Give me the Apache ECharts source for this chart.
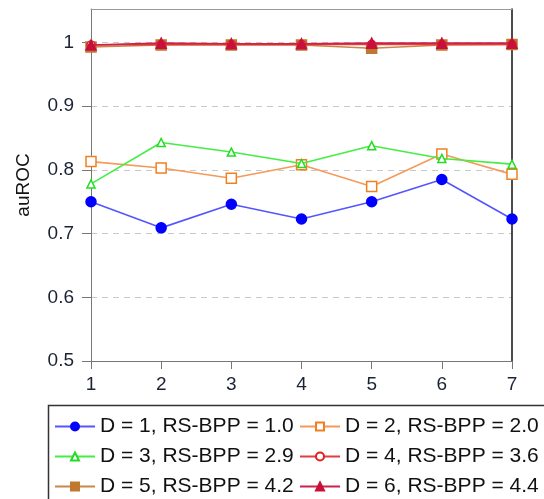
<!DOCTYPE html>
<html>
<head>
<meta charset="utf-8">
<script src="https://cdn.jsdelivr.net/npm/echarts@6/dist/echarts.min.js"></script>
<style>html,body{margin:0;padding:0;background:#fff;}#c{width:544px;height:499px;}</style>
</head>
<body>
<div id="c"></div>
<script>
const categories = ['1','2','3','4','5','6','7'];
const seriesNames = ['D = 1, RS-BPP = 1.0','D = 2, RS-BPP = 2.0','D = 3, RS-BPP = 2.9','D = 4, RS-BPP = 3.6','D = 5, RS-BPP = 4.2','D = 6, RS-BPP = 4.4'];
const d1 = [0.750, 0.709, 0.746, 0.723, 0.750, 0.785, 0.723];
const d2 = [0.813, 0.803, 0.787, 0.808, 0.774, 0.825, 0.793];
const d3 = [0.778, 0.843, 0.828, 0.810, 0.838, 0.818, 0.809];
const d4 = [0.996, 0.997, 0.997, 0.997, 0.997, 0.997, 0.997];
const d5 = [0.993, 0.996, 0.996, 0.996, 0.991, 0.996, 0.997];
const d6 = [0.996, 0.999, 0.998, 0.998, 0.999, 0.999, 0.999];
const yTicks = [0.5, 0.6, 0.7, 0.8, 0.9, 1];

const styles = [
  {line:'#5555ff', sym:'circle', size:10, fill:'#0000ff', border:'#0000ff'},
  {line:'#f59a5a', sym:'rect', size:10, fill:'#ffffff', border:'#f08020'},
  {line:'#44ee44', sym:'triangle', size:8, fill:'#ffffff', border:'#22dd22'},
  {line:'#e63c3c', sym:'circle', size:8, fill:'#ffffff', border:'#e02020'},
  {line:'#c8884a', sym:'rect', size:10, fill:'#c07830', border:'#c07830'},
  {line:'#d0204a', sym:'triangle', size:10, fill:'#c8103c', border:'#c8103c'}
];
const datas = [d1,d2,d3,d4,d5,d6];
const order = [4,3,5,1,2,0];

const series = datas.map((d,i)=>({
  name: seriesNames[i],
  type: 'line',
  data: d,
  symbol: styles[i].sym,
  symbolSize: styles[i].size,
  showAllSymbol: true,
  z: 2 + order.indexOf(i),
  lineStyle: {color: styles[i].line, width: 1.6},
  itemStyle: {color: styles[i].fill, borderColor: styles[i].border, borderWidth: 1.5},
  emphasis: {disabled: true},
  animation: false
}));

const font = 'Liberation Sans, Arial, sans-serif';
const legendText = {fontSize: 21, color: '#111', fontFamily: font};

const chart = echarts.init(document.getElementById('c'));
chart.setOption({
  animation: false,
  backgroundColor: '#fff',
  grid: {left: 91, right: 32, top: 9, bottom: 138},
  xAxis: [{
    type: 'category', data: categories, boundaryGap: false,
    axisLine: {lineStyle: {color: '#777', width: 1}},
    axisTick: {show: true, length: 8, alignWithLabel: true, lineStyle: {color: '#777'}},
    axisLabel: {fontSize: 19, color: '#1a2233', fontFamily: font, margin: 14},
    splitLine: {show: false}
  },{
    type: 'category', data: categories, boundaryGap: false, position: 'top',
    axisLine: {lineStyle: {color: '#999', width: 1}},
    axisTick: {show: false}, axisLabel: {show: false}, splitLine: {show: false}
  }],
  yAxis: [{
    type: 'value', min: 0.5, max: 1.0526, interval: 0.1,
    name: 'auROC', nameLocation: 'middle', nameGap: 58, nameRotate: 90,
    nameTextStyle: {fontSize: 19, color: '#111', fontFamily: font},
    axisLine: {show: true, lineStyle: {color: '#777', width: 1}},
    axisTick: {show: true, length: 9, lineStyle: {color: '#777'}},
    axisLabel: {fontSize: 19, color: '#1a2233', fontFamily: font, margin: 17,
      formatter: v => (yTicks.some(t => Math.abs(t - v) < 1e-6) ? String(+v.toFixed(1)) : ''),
      showMaxLabel: false},
    splitLine: {show: true, lineStyle: {color: '#c8c8c8', type: [6,5], width: 1.2}}
  },{
    type: 'value', min: 0.5, max: 1.0526, interval: 0.1, position: 'right',
    axisLine: {show: true, lineStyle: {color: '#111', width: 1.5}},
    axisTick: {show: false}, axisLabel: {show: false}, splitLine: {show: false}
  }],
  legend: [{
    data: [seriesNames[0], seriesNames[2], seriesNames[4]],
    orient: 'vertical', left: 54, top: 416, itemGap: 9,
    itemWidth: 40, itemHeight: 10, textStyle: legendText, padding: 0,
    selectedMode: false
  },{
    data: [seriesNames[1], seriesNames[3], seriesNames[5]],
    orient: 'vertical', left: 299, top: 416, itemGap: 9,
    itemWidth: 40, itemHeight: 10, textStyle: legendText, padding: 0,
    selectedMode: false
  }],
  graphic: [{
    type: 'rect', shape: {x: 48.5, y: 405.5, width: 520, height: 100},
    style: {fill: 'none', stroke: '#333', lineWidth: 1.5}, silent: true
  }],
  series: series
});
</script>
</body>
</html>
